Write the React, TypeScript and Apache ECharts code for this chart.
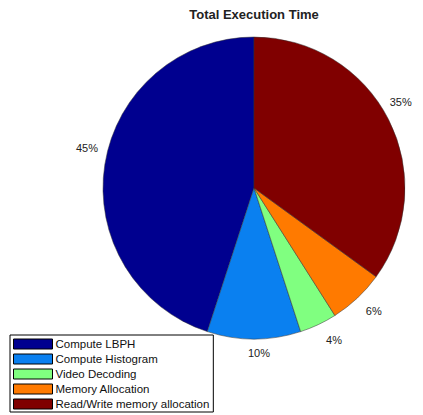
import React, { useEffect, useRef } from "react";
import * as echarts from "echarts";

const categories = [
  "Compute LBPH",
  "Compute Histogram",
  "Video Decoding",
  "Memory Allocation",
  "Read/Write memory allocation",
];
const shares = [45, 10, 4, 6, 35];
const colors = ["#00008f", "#0a80f0", "#80ff80", "#ff7a00", "#800000"];

// pie geometry inside the chart div (div sits at the body's 8px margin)
const CX = 246;
const CY = 180;
const R = 151;
// small hand nudges for the percentage texts, [dx, dy] per slice
const labelNudge: [number, number][] = [[0, -14], [5, -4], [8, -1], [4, 0], [-4, -9]];

export default function App() {
  const ref = useRef<HTMLDivElement>(null);

  useEffect(() => {
    if (!ref.current) return;
    const chart = echarts.init(ref.current, undefined, { renderer: "svg" });
    chart.setOption({
      animation: false,
      backgroundColor: "#ffffff",
      textStyle: { fontFamily: "Liberation Sans" },
      title: {
        text: "Total Execution Time",
        left: 246,
        top: 0,
        padding: 0,
        textAlign: "center",
        textStyle: { fontSize: 13, fontWeight: "bold", color: "#222", fontFamily: "Liberation Sans" },
      },
      legend: {
        orient: "vertical",
        left: 2,
        top: 327,
        height: 200,
        icon: "rect",
        itemWidth: 39,
        itemHeight: 10,
        itemGap: 3,
        padding: [3, 4, 2, 3],
        borderColor: "#000",
        borderWidth: 1,
        borderRadius: 0,
        backgroundColor: "#fff",
        z: 10,
        textStyle: {
          fontSize: 11.5,
          color: "#111",
          fontFamily: "Liberation Sans",
          padding: [0, 0, 0, -2],
        },
        itemStyle: { borderColor: "#000", borderWidth: 1 },
        data: categories,
      },
      series: [
        {
          type: "pie",
          center: [CX, CY],
          radius: R,
          startAngle: 90,
          clockwise: false,
          z: 2,
          itemStyle: { borderColor: "#333", borderWidth: 0.5 },
          label: { show: false },
          labelLine: { show: false },
          data: categories.map((name, i) => ({
            name,
            value: shares[i],
            itemStyle: { color: colors[i] },
          })),
        },
        {
          // invisible twin whose inside labels land at 1.1 × the pie radius
          type: "pie",
          center: [CX, CY],
          radius: [0, R * 2.2],
          startAngle: 90,
          clockwise: false,
          silent: true,
          z: 1,
          legendHoverLink: false,
          avoidLabelOverlap: false,
          itemStyle: { color: "rgba(0,0,0,0)", borderWidth: 0 },
          label: {
            show: true,
            position: "inside",
            formatter: (p: any) => `${p.value}%`,
            fontSize: 11,
            color: "#222",
            fontFamily: "Liberation Sans",
          },
          labelLine: { show: false },
          data: categories.map((name, i) => ({
            name: name + " ",
            value: shares[i],
            label: { offset: labelNudge[i] },
          })),
        },
      ],
    });
    return () => chart.dispose();
  }, []);

  return <div ref={ref} style={{ width: 415, height: 407 }} />;
}
